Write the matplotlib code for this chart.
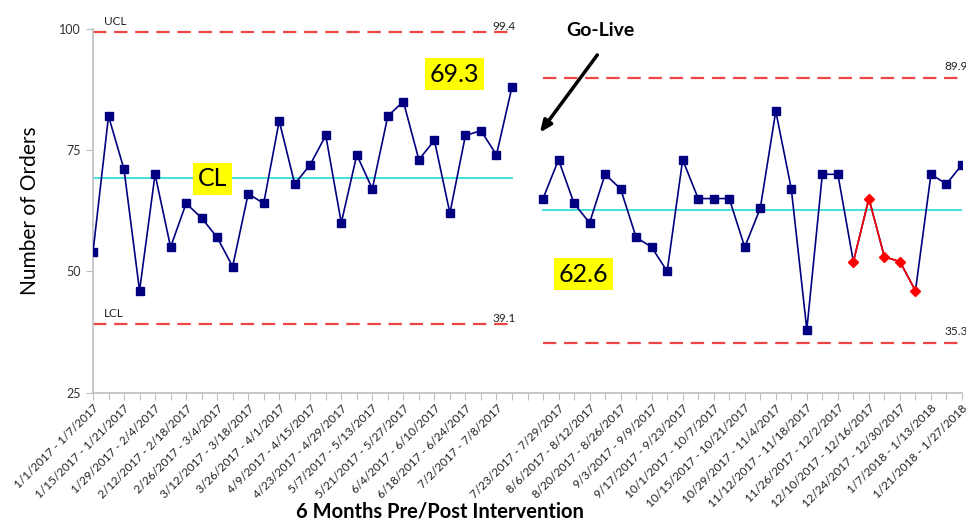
import matplotlib
matplotlib.use("Agg")
import matplotlib.pyplot as plt

plt.rcParams["font.family"] = ["Lato", "DejaVu Sans"]

pre_values = [54, 82, 71, 46, 70, 55, 64, 61, 57, 51, 66, 64, 81, 68, 72, 78,
              60, 74, 67, 82, 85, 73, 77, 62, 78, 79, 74, 88]
post_values = [65, 73, 64, 60, 70, 67, 57, 55, 50, 73, 65, 65, 65, 55, 63, 83,
               67, 38, 70, 70, 52, 65, 53, 52, 46, 70, 68, 72]
# post points flagged as a run below the centre line
flag_index = [20, 21, 22, 23, 24]

pre_ucl, pre_cl, pre_lcl = 99.4, 69.3, 39.1
post_ucl, post_cl, post_lcl = 89.9, 62.6, 35.3

pre_labels = ["1/1/2017 - 1/7/2017", "1/15/2017 - 1/21/2017", "1/29/2017 - 2/4/2017",
              "2/12/2017 - 2/18/2017", "2/26/2017 - 3/4/2017", "3/12/2017 - 3/18/2017",
              "3/26/2017 - 4/1/2017", "4/9/2017 - 4/15/2017", "4/23/2017 - 4/29/2017",
              "5/7/2017 - 5/13/2017", "5/21/2017 - 5/27/2017", "6/4/2017 - 6/10/2017",
              "6/18/2017 - 6/24/2017", "7/2/2017 - 7/8/2017"]
post_labels = ["7/23/2017 - 7/29/2017", "8/6/2017 - 8/12/2017", "8/20/2017 - 8/26/2017",
               "9/3/2017 - 9/9/2017", "9/17/2017 - 9/23/2017", "10/1/2017 - 10/7/2017",
               "10/15/2017 - 10/21/2017", "10/29/2017 - 11/4/2017", "11/12/2017 - 11/18/2017",
               "11/26/2017 - 12/2/2017", "12/10/2017 - 12/16/2017", "12/24/2017 - 12/30/2017",
               "1/7/2018 - 1/13/2018", "1/21/2018 - 1/27/2018"]

NAVY = "#000080"
DASH_RED = "#EE4444"
CYAN = "#40E0E0"

n_pre = len(pre_values)
post_start = n_pre + 1
x_pre = list(range(n_pre))
x_post = list(range(post_start, post_start + len(post_values)))
n_total = post_start + len(post_values)

fig = plt.figure(figsize=(9.66, 5.22), dpi=100)
ax = fig.add_axes([93 / 966, 129.3 / 522, 869 / 966, 364 / 522])

# control lines
ax.plot([x_pre[0], x_pre[-1]], [pre_ucl] * 2, color=DASH_RED, lw=1.6, dashes=(6, 3.5))
ax.plot([x_pre[0], x_pre[-1]], [pre_lcl] * 2, color=DASH_RED, lw=1.6, dashes=(6, 3.5))
ax.plot([x_pre[0], x_pre[-1]], [pre_cl] * 2, color=CYAN, lw=1.4)
ax.plot([x_post[0], x_post[-1]], [post_ucl] * 2, color=DASH_RED, lw=1.6, dashes=(6, 3.5))
ax.plot([x_post[0], x_post[-1]], [post_lcl] * 2, color=DASH_RED, lw=1.6, dashes=(6, 3.5))
ax.plot([x_post[0], x_post[-1]], [post_cl] * 2, color=CYAN, lw=1.4)

# data
ax.plot(x_pre, pre_values, color=NAVY, lw=1.2, marker="s", ms=6, zorder=3)
normal = [i for i in range(len(post_values)) if i not in flag_index]
ax.plot(x_post, post_values, color=NAVY, lw=1.2, marker="s", ms=6,
        markevery=normal, zorder=3)
fx = [x_post[i] for i in flag_index]
fy = [post_values[i] for i in flag_index]
ax.plot(fx, fy, color="red", lw=1.2, marker="D", ms=5, zorder=4)

# line labels
small = dict(fontsize=8.5, color="#222222")
ax.annotate("UCL", (0.7, pre_ucl), xytext=(0, 3), textcoords="offset points",
            ha="left", va="bottom", **small)
ax.annotate("LCL", (0.7, pre_lcl), xytext=(0, 4), textcoords="offset points",
            ha="left", va="bottom", **small)
ax.annotate(f"{pre_ucl}", (x_pre[-1] - 0.5, pre_ucl), xytext=(0, 0), textcoords="offset points",
            ha="center", va="bottom", **small)
ax.annotate(f"{pre_lcl}", (x_pre[-1] - 0.5, pre_lcl), xytext=(0, 0), textcoords="offset points",
            ha="center", va="bottom", **small)
ax.annotate(f"{post_ucl}", (x_post[-1] - 1.15, post_ucl), xytext=(0, 4), textcoords="offset points",
            ha="left", va="bottom", annotation_clip=False, **small)
ax.annotate(f"{post_lcl}", (x_post[-1] - 1.15, post_lcl), xytext=(0, 4), textcoords="offset points",
            ha="left", va="bottom", annotation_clip=False, **small)

# yellow call-outs
box = dict(boxstyle="square,pad=0.18", facecolor="yellow", edgecolor="none")
ax.text(7.7, 69.1, "CL", fontsize=18, ha="center", va="center", bbox=box, zorder=5)
ax.text(23.3, 90.6, f"{pre_cl}", fontsize=18, ha="center", va="center", bbox=box, zorder=5)
ax.text(31.6, 49.4, f"{post_cl}", fontsize=18, ha="center", va="center", bbox=box, zorder=5)

# go-live arrow
ax.text(32.7, 99.6, "Go-Live", fontsize=14, fontweight="bold", ha="center", va="center")
ax.annotate("", xy=(28.8, 78.6), xytext=(32.5, 94.6),
            arrowprops=dict(arrowstyle="-|>,head_length=0.7,head_width=0.3",
                            color="black", lw=2.5, shrinkA=0, shrinkB=0))

# axes styling
ax.set_xlim(0, n_total - 1)
ax.set_ylim(25, 100)
ax.set_yticks([25, 50, 75, 100])
ax.tick_params(axis="y", labelsize=9, colors="#BFBFBF", labelcolor="#333333", length=5)

tick_text = [""] * n_total
for i, lab in enumerate(pre_labels):
    tick_text[2 * i] = lab
for i, lab in enumerate(post_labels):
    tick_text[post_start + 1 + 2 * i] = lab
ax.set_xticks(range(n_total))
ax.set_xticklabels(tick_text, rotation=45, ha="right", rotation_mode="anchor", fontsize=8.5)
ax.tick_params(axis="x", colors="#BFBFBF", labelcolor="#222222", length=5, pad=2)

for side in ["top", "right"]:
    ax.spines[side].set_visible(False)
for side in ["left", "bottom"]:
    ax.spines[side].set_color("#BFBFBF")
    ax.spines[side].set_linewidth(1.2)

ax.set_ylabel("Number of Orders", fontsize=15, labelpad=14)
fig.text(440 / 966, 1 - 511 / 522, "6 Months Pre/Post Intervention",
         fontsize=14.5, fontweight="bold", ha="center", va="center")

fig.savefig("out.png", dpi=100)
